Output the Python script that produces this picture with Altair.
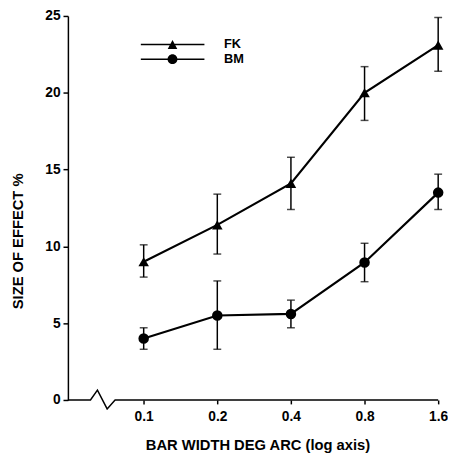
import altair as alt
import pandas as pd

# ---- data ----
widths = [0.1, 0.2, 0.4, 0.8, 1.6]
fk_mean = [9.0, 11.4, 14.1, 20.0, 23.1]
fk_low = [8.0, 9.5, 12.4, 18.2, 21.4]
fk_high = [10.1, 13.4, 15.8, 21.7, 24.9]
bm_mean = [4.0, 5.5, 5.6, 8.95, 13.5]
bm_low = [3.3, 3.3, 4.7, 7.7, 12.4]
bm_high = [4.7, 7.75, 6.5, 10.2, 14.7]
series_names = ["FK", "BM"]
y_ticks = [0, 5, 10, 15, 20, 25]

# broken x-axis baseline (zig-zag break near the origin), in data units
axis_x = [0.049, 0.0606, 0.0647, 0.0709, 0.0764, 1.6]
axis_y = [0, 0, 0.64, -0.58, 0, 0]

rows = []
for name, m, lo, hi in [("FK", fk_mean, fk_low, fk_high), ("BM", bm_mean, bm_low, bm_high)]:
    for xv, a, b, c in zip(widths, m, lo, hi):
        rows.append({"series": name, "x": xv, "mean": a, "low": b, "high": c})
df = pd.DataFrame(rows)
axis_df = pd.DataFrame({"x": axis_x, "y": axis_y, "i": list(range(len(axis_x)))})

FONT = "Liberation Sans"
xscale = alt.Scale(type="log", domain=[0.049, 1.6], nice=False)
yscale = alt.Scale(domain=[0, 25], nice=False, zero=False)

xaxis = alt.Axis(values=widths, format=".1f", domain=False, grid=False,
                 tickSize=4, tickColor="black", tickWidth=1.5,
                 labelFont=FONT, labelFontSize=14, labelFontWeight="bold",
                 labelColor="black", labelPadding=6, labelOverlap=False, labelFlush=False,
                 titleFont=FONT, titleFontSize=15, titleFontWeight="bold", titleColor="black",
                 titleX=193, titleY=50, titleBaseline="alphabetic")
yaxis = alt.Axis(values=y_ticks, grid=False, domainColor="black", domainWidth=1.5,
                 tickSize=5, tickColor="black", tickWidth=1.5,
                 labelFont=FONT, labelFontSize=14, labelFontWeight="bold",
                 labelColor="black", labelPadding=3, labelFlush=False,
                 titleFont=FONT, titleFontSize=15, titleFontWeight="bold", titleColor="black",
                 titleX=-51, titleY=229, titleBaseline="middle")

XT = "BAR WIDTH DEG ARC (log axis)"
YT = "SIZE OF EFFECT %"

def X(field="x"):
    return alt.X(f"{field}:Q", scale=xscale, axis=xaxis, title=XT)

def Y(field):
    return alt.Y(f"{field}:Q", scale=yscale, axis=yaxis, title=YT)

base = alt.Chart(df)

lines = base.mark_line(color="black", strokeWidth=2.2).encode(
    x=X(), y=Y("mean"), detail="series:N")

err = base.mark_rule(color="black", strokeWidth=1.5).encode(
    x=X(), y=Y("low"), y2="high:Q")
cap_lo = base.mark_tick(orient="horizontal", size=8, thickness=1.5, color="black").encode(
    x=X(), y=Y("low"))
cap_hi = base.mark_tick(orient="horizontal", size=8, thickness=1.5, color="black").encode(
    x=X(), y=Y("high"))

points = base.mark_point(filled=True, size=115, opacity=1, color="black").encode(
    x=X(), y=Y("mean"),
    shape=alt.Shape("series:N", scale=alt.Scale(domain=series_names, range=["triangle-up", "circle"]),
                    legend=None))

# legend symbols: a line segment with the marker on it
fk_sym = "M-1,-0.023L1,-0.023L1,0.023L-1,0.023Z M0,-0.14L0.15,0.14L-0.15,0.14Z"
bm_sym = ("M-1,-0.023L1,-0.023L1,0.023L-1,0.023Z "
          "M-0.154,0A0.154,0.154 0 1,1 0.154,0A0.154,0.154 0 1,1 -0.154,0Z")

legend_layer = base.mark_point(filled=True, opacity=0, color="black").encode(
    x=X(), y=Y("mean"),
    shape=alt.Shape("series:N", scale=alt.Scale(domain=series_names, range=[fk_sym, bm_sym]),
                    legend=alt.Legend(orient="none", legendX=74, legendY=21.5, title=None,
                                      symbolSize=4225, symbolStrokeWidth=0,
                                      symbolFillColor="black", symbolOpacity=1,
                                      clipHeight=15, rowPadding=0, labelOffset=20, padding=0,
                                      labelFont=FONT, labelFontSize=13, labelFontWeight="bold",
                                      labelColor="black")))

baseline = alt.Chart(axis_df).mark_line(color="black", strokeWidth=1.5).encode(
    x=X(), y=Y("y"), order="i:O")

chart = alt.layer(baseline, err, cap_lo, cap_hi, lines, points, legend_layer).resolve_scale(
    shape="independent"
).properties(
    width=377, height=391,
    autosize=alt.AutoSizeParams(type="none"),
    padding={"left": 61, "top": 4, "right": 10, "bottom": 56},
).configure_view(stroke=None)

chart.save("out.html", embed_options={"renderer": "svg", "actions": False})
